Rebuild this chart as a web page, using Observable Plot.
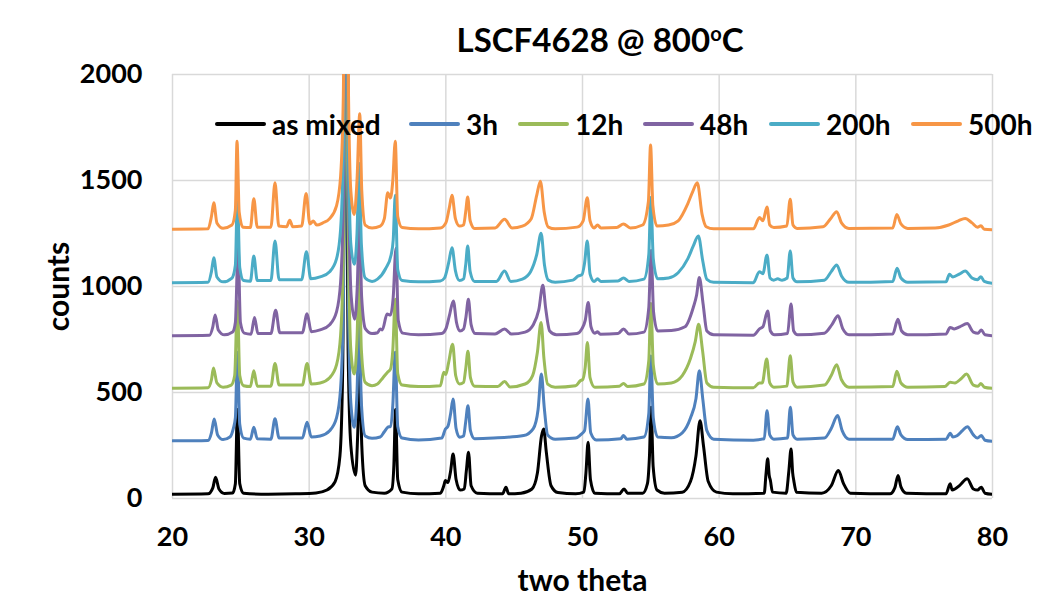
<!DOCTYPE html>
<html>
<head>
<meta charset="utf-8">
<script src="https://cdn.jsdelivr.net/npm/d3@7"></script>
<script src="https://cdn.jsdelivr.net/npm/@observablehq/plot@0.6"></script>
<style>
  html, body { margin: 0; padding: 0; background: #fff; }
  #wrap { position: relative; width: 1037px; height: 601px; font-family: Lato, "Open Sans", sans-serif; font-weight: bold; color: #000; }
  #wrap svg { position: absolute; left: 0; top: 0; }
  #title { position: absolute; left: 0; width: 1200px; top: 19px; text-align: center; font-size: 33px; }
  #title sup { font-size: 20px; vertical-align: 0; position: relative; top: -11px; }
  #legend { position: absolute; left: 215px; top: 107px; display: flex; align-items: center; font-size: 28px; white-space: nowrap; }
  .item { display: flex; align-items: center; flex: 0 0 auto; }
  .swatch { width: 51px; height: 4px; border-radius: 2px; margin-right: 6px; }
</style>
</head>
<body>
<div id="wrap">
  <div id="title">LSCF4628 @ 800<sup>o</sup>C</div>
  <div id="legend"></div>
</div>
<script>
// ---- data ----
const seriesNames = ["as mixed", "3h", "12h", "48h", "200h", "500h"];
const seriesColors = ["#000000", "#4F81BD", "#9BBB59", "#8064A2", "#4BACC6", "#F79646"];
const xTicks = [20, 30, 40, 50, 60, 70, 80];
const yTicks = [0, 500, 1000, 1500, 2000];

// [two theta, counts]
const asMixed = [[20,20],[22.6,22],[22.95,50],[23.15,100],[23.4,45],[23.8,24],[24.4,26],[24.6,70],[24.75,420],[24.92,70],[25.2,25],[27,20],[29,22],[30.5,26],[31.3,40],[31.9,80],[32.25,200],[32.45,600],[32.65,2150],[32.85,700],[33.05,250],[33.4,110],[33.55,300],[33.7,600],[33.85,250],[34.1,60],[34.6,30],[35.5,25],[36.05,45],[36.2,160],[36.32,420],[36.48,90],[36.8,30],[38,22],[39.6,25],[39.85,60],[39.97,85],[40.15,75],[40.35,130],[40.53,210],[40.75,90],[41.05,40],[41.35,45],[41.5,130],[41.66,218],[41.85,60],[42.3,25],[44.15,22],[44.4,53],[44.6,22],[45.5,25],[46.3,45],[46.7,120],[47.0,295],[47.16,328],[47.35,220],[47.7,60],[48.2,28],[49.5,22],[50.1,30],[50.25,120],[50.41,265],[50.58,90],[50.9,25],[52.7,22],[53.04,45],[53.3,25],[54.4,25],[54.75,70],[54.9,200],[55.02,430],[55.17,150],[55.45,40],[56,25],[57.3,30],[57.9,80],[58.3,200],[58.6,367],[58.85,250],[59.2,80],[59.8,30],[61,22],[63.3,25],[63.42,110],[63.55,187],[63.66,110],[63.75,85],[63.9,30],[64.9,25],[65.1,130],[65.26,234],[65.38,120],[65.46,85],[65.65,30],[67.5,25],[68.2,60],[68.72,132],[69.1,70],[69.6,25],[72.5,22],[72.85,50],[73.09,108],[73.3,55],[73.7,25],[76.6,22],[76.9,69],[77.05,40],[77.25,45],[77.6,62],[78.15,93],[78.6,45],[78.9,40],[79.18,53],[79.45,25],[80,20]];

const h3 = [[20,272],[22.6,274],[22.85,310],[23.05,375],[23.3,300],[23.7,278],[24.2,290],[24.45,330],[24.6,380],[24.75,690],[24.92,350],[25.2,285],[25.7,280],[25.95,336],[26.2,282],[27.2,280],[27.5,376],[27.8,285],[29.5,285],[29.85,360],[30.15,290],[30.8,295],[31.5,320],[32.0,380],[32.3,520],[32.5,900],[32.68,2400],[32.88,900],[33.05,450],[33.3,336],[33.5,500],[33.66,840],[33.82,450],[34.1,295],[34.6,284],[35.2,290],[35.5,315],[35.75,336],[35.95,340],[36.12,440],[36.3,690],[36.48,340],[36.8,285],[38,276],[39.7,285],[39.97,328],[40.15,340],[40.35,400],[40.53,469],[40.75,330],[41.0,289],[41.3,295],[41.45,360],[41.62,438],[41.8,320],[42.1,282],[43.5,285],[45.7,297],[46.4,330],[46.75,420],[46.99,587],[47.2,430],[47.45,300],[48.0,280],[49.5,285],[49.85,300],[50.15,320],[50.4,469],[50.6,310],[51.0,276],[52.8,282],[53.0,297],[53.25,280],[54.5,290],[54.85,400],[55.0,672],[55.18,380],[55.5,290],[56.5,287],[57.3,310],[57.9,380],[58.3,470],[58.55,603],[58.8,470],[59.1,320],[59.6,280],[62.5,275],[63.3,282],[63.5,414],[63.7,300],[64.0,280],[65.0,285],[65.21,430],[65.4,300],[65.7,280],[67.7,285],[68.2,330],[68.67,391],[69.0,320],[69.5,280],[72.7,280],[73.04,339],[73.3,300],[73.8,278],[76.6,280],[76.91,308],[77.1,290],[77.4,296],[77.8,320],[78.16,339],[78.6,300],[78.9,285],[79.18,297],[79.45,275],[80,270]];

const h12 = [[20,520],[22.6,522],[22.85,560],[23.0,615],[23.25,545],[23.7,525],[24.3,535],[24.55,580],[24.75,930],[24.92,580],[25.2,532],[25.7,528],[25.95,603],[26.2,530],[27.2,530],[27.5,637],[27.8,535],[29.5,535],[29.85,637],[30.15,540],[30.8,545],[31.5,570],[32.0,630],[32.3,770],[32.5,1150],[32.68,2650],[32.88,1150],[33.05,700],[33.3,587],[33.5,750],[33.66,1080],[33.82,700],[34.1,548],[34.6,532],[35.0,540],[35.4,570],[35.75,597],[35.95,610],[36.12,700],[36.3,940],[36.48,590],[36.8,535],[38,528],[39.6,532],[39.85,595],[40.0,585],[40.2,640],[40.5,728],[40.72,580],[41.0,540],[41.3,548],[41.45,610],[41.62,694],[41.8,570],[42.1,530],[43.8,528],[44.3,552],[44.7,526],[45.8,540],[46.35,580],[46.7,690],[46.97,830],[47.18,660],[47.45,540],[48.0,525],[49.5,532],[49.85,556],[50.0,560],[50.2,620],[50.36,736],[50.55,570],[50.9,525],[52.7,530],[53.0,543],[53.3,528],[54.5,540],[54.85,650],[55.0,920],[55.18,630],[55.5,540],[56.5,545],[57.3,580],[57.9,660],[58.25,740],[58.5,822],[58.78,700],[59.1,545],[59.6,525],[62.5,522],[62.94,545],[63.15,545],[63.48,658],[63.7,545],[64.0,525],[64.95,530],[65.2,673],[65.4,550],[65.7,525],[67.7,535],[68.2,580],[68.6,631],[68.95,560],[69.5,525],[72.7,528],[73.0,600],[73.3,545],[73.8,525],[76.5,528],[76.9,548],[77.25,545],[77.7,565],[78.1,587],[78.6,535],[78.95,530],[79.15,543],[79.4,525],[80,520]];

const h48 = [[20,768],[22.7,770],[22.95,810],[23.12,866],[23.35,795],[23.8,772],[24.4,785],[24.6,830],[24.8,1180],[24.97,830],[25.25,780],[25.75,775],[26.0,854],[26.25,778],[27.2,778],[27.55,888],[27.85,782],[29.5,782],[29.85,872],[30.15,787],[30.8,795],[31.5,820],[32.0,880],[32.3,1020],[32.5,1400],[32.7,2900],[32.9,1400],[33.08,950],[33.33,846],[33.52,1000],[33.68,1330],[33.84,950],[34.12,800],[34.6,778],[35.0,782],[35.2,800],[35.35,795],[35.7,870],[35.95,865],[36.15,950],[36.35,1180],[36.52,840],[36.85,780],[38,772],[39.7,778],[40.0,800],[40.25,860],[40.55,932],[40.78,830],[41.02,790],[41.3,800],[41.48,860],[41.65,940],[41.85,820],[42.15,778],[43.6,776],[44.3,799],[44.8,776],[45.8,785],[46.4,820],[46.8,890],[47.1,1006],[47.3,900],[47.6,790],[48.1,772],[49.6,778],[49.95,800],[50.2,840],[50.42,924],[50.62,810],[50.9,780],[51.1,786],[51.3,775],[52.6,778],[53.0,800],[53.4,776],[54.5,785],[54.85,900],[55.02,1170],[55.2,880],[55.5,790],[56.5,792],[57.5,810],[58.1,900],[58.35,960],[58.55,1042],[58.82,920],[59.1,790],[59.6,772],[62.5,770],[62.95,800],[63.2,810],[63.55,885],[63.75,790],[64.05,772],[65.0,778],[65.26,917],[65.45,790],[65.75,772],[67.7,780],[68.25,820],[68.7,862],[69.05,800],[69.5,772],[72.7,776],[73.08,846],[73.35,790],[73.8,772],[76.6,776],[76.9,807],[77.2,800],[77.6,810],[78.15,825],[78.6,785],[78.95,780],[79.18,795],[79.45,772],[80,768]];

const h200 = [[20,1018],[22.6,1020],[22.85,1070],[23.02,1136],[23.25,1045],[23.7,1022],[24.35,1040],[24.6,1100],[24.75,1430],[24.92,1090],[25.2,1028],[25.7,1025],[25.95,1144],[26.2,1028],[27.2,1028],[27.5,1215],[27.8,1032],[29.45,1032],[29.8,1164],[30.12,1036],[30.8,1045],[31.5,1070],[32.0,1130],[32.3,1270],[32.5,1650],[32.68,3150],[32.88,1650],[33.05,1200],[33.3,1105],[33.5,1250],[33.66,1580],[33.82,1200],[34.1,1040],[34.6,1024],[35.0,1035],[35.6,1085],[36.0,1150],[36.15,1220],[36.3,1430],[36.48,1080],[36.8,1028],[38,1022],[39.6,1026],[39.9,1040],[40.2,1110],[40.45,1183],[40.7,1075],[41.0,1028],[41.3,1036],[41.45,1100],[41.6,1191],[41.78,1070],[42.1,1024],[43.7,1024],[44.3,1073],[44.75,1024],[45.6,1035],[46.2,1070],[46.65,1150],[46.97,1251],[47.22,1100],[47.5,1030],[48.0,1020],[49.3,1030],[49.7,1050],[49.95,1055],[50.15,1110],[50.35,1215],[50.55,1060],[50.85,1024],[51.1,1036],[51.35,1024],[52.6,1026],[53.0,1040],[53.4,1024],[54.5,1035],[54.85,1150],[55.0,1420],[55.18,1130],[55.5,1036],[56.3,1040],[57.0,1065],[57.7,1130],[58.1,1190],[58.48,1238],[58.8,1120],[59.1,1034],[59.6,1020],[62.5,1018],[62.94,1070],[63.2,1060],[63.5,1149],[63.72,1040],[64.0,1030],[64.28,1036],[64.6,1030],[64.98,1040],[65.2,1168],[65.4,1040],[65.7,1022],[67.7,1030],[68.2,1070],[68.6,1102],[68.95,1050],[69.5,1020],[72.7,1024],[73.02,1086],[73.3,1040],[73.8,1020],[76.6,1022],[76.85,1058],[77.1,1045],[77.6,1060],[78.0,1073],[78.5,1040],[78.9,1032],[79.15,1046],[79.4,1024],[80,1015]];

const h500 = [[20,1270],[22.6,1272],[22.85,1330],[23.02,1395],[23.25,1300],[23.7,1275],[24.35,1290],[24.6,1360],[24.72,1685],[24.88,1350],[25.15,1280],[25.7,1278],[25.95,1414],[26.2,1280],[27.2,1280],[27.5,1489],[27.78,1285],[28.35,1282],[28.58,1312],[28.8,1282],[29.45,1285],[29.78,1439],[30.05,1295],[30.3,1309],[30.55,1290],[31.0,1300],[31.5,1320],[32.0,1380],[32.3,1520],[32.5,1900],[32.68,3400],[32.88,1900],[33.05,1450],[33.3,1340],[33.5,1500],[33.7,1815],[33.85,1450],[34.1,1290],[34.6,1276],[35.2,1285],[35.5,1320],[35.75,1442],[35.95,1417],[36.12,1500],[36.3,1685],[36.48,1330],[36.8,1278],[38,1272],[39.6,1276],[40.0,1300],[40.25,1370],[40.45,1431],[40.7,1320],[41.0,1285],[41.3,1290],[41.45,1350],[41.6,1422],[41.78,1310],[42.1,1274],[43.6,1276],[44.3,1317],[44.85,1276],[45.6,1285],[46.25,1320],[46.65,1430],[46.92,1497],[47.2,1350],[47.5,1280],[48.0,1272],[49.6,1280],[50.05,1310],[50.35,1419],[50.55,1310],[50.85,1276],[51.1,1290],[51.35,1276],[52.5,1278],[53.0,1295],[53.5,1276],[54.4,1290],[54.82,1400],[54.98,1667],[55.15,1380],[55.45,1285],[56.3,1290],[57.0,1310],[57.7,1390],[58.05,1445],[58.4,1489],[58.75,1340],[59.05,1282],[59.6,1272],[62.5,1272],[62.95,1325],[63.2,1310],[63.5,1375],[63.7,1290],[64.0,1278],[64.95,1285],[65.2,1411],[65.4,1290],[65.7,1274],[67.6,1282],[68.15,1320],[68.6,1353],[68.95,1300],[69.5,1274],[72.7,1276],[73.0,1340],[73.3,1295],[73.8,1274],[75.8,1276],[76.8,1290],[77.5,1310],[78.0,1321],[78.5,1300],[78.9,1280],[79.15,1287],[79.4,1270],[80,1268]];

const seriesData = [asMixed, h3, h12, h48, h200, h500];

// ---- build table ----
const rows = [];
seriesData.forEach((pts, i) => {
  pts.forEach(([x, y]) => rows.push({series: seriesNames[i], x, y}));
});

const chart = Plot.plot({
  width: 1037,
  height: 601,
  marginTop: 74,
  marginBottom: 103,
  marginLeft: 172,
  marginRight: 45,
  style: {fontFamily: "Lato, 'Open Sans', sans-serif", fontWeight: "bold", fontSize: "27px", color: "#000", background: "transparent"},
  x: {domain: [20, 80]},
  y: {domain: [0, 2000]},
  color: {domain: seriesNames, range: seriesColors},
  marks: [
    Plot.gridX(xTicks, {stroke: "#d9d9d9", strokeOpacity: 1, strokeWidth: 1.5}),
    Plot.gridY(yTicks, {stroke: "#d9d9d9", strokeOpacity: 1, strokeWidth: 1.5}),
    Plot.axisX({ticks: xTicks, tickSize: 0, tickPadding: 28, tickFormat: d => String(d), label: null, fontSize: 27}),
    Plot.axisY({ticks: yTicks, tickSize: 0, tickPadding: 30, tickFormat: d => String(d), label: null, fontSize: 27}),
    Plot.axisX({ticks: [], label: "two theta", labelAnchor: "center", labelArrow: "none", labelOffset: 92, fontSize: 30}),
    Plot.axisY({ticks: [], label: "counts", labelAnchor: "center", labelArrow: "none", labelOffset: 125, fontSize: 30}),
    Plot.line(rows, {x: "x", y: "y", z: "series", stroke: "series", strokeWidth: 3, curve: "monotone-x", clip: true})
  ]
});
document.getElementById("wrap").prepend(chart);

// legend (item widths follow the reference's spacing)
const legendItemWidths = [194, 109, 125, 126, 142, null];
const legend = document.getElementById("legend");
seriesNames.forEach((name, i) => {
  const item = document.createElement("div");
  item.className = "item";
  if (legendItemWidths[i]) item.style.width = legendItemWidths[i] + "px";
  const sw = document.createElement("div");
  sw.className = "swatch";
  sw.style.background = seriesColors[i];
  const t = document.createElement("span");
  t.textContent = name;
  item.appendChild(sw);
  item.appendChild(t);
  legend.appendChild(item);
});
</script>
</body>
</html>
